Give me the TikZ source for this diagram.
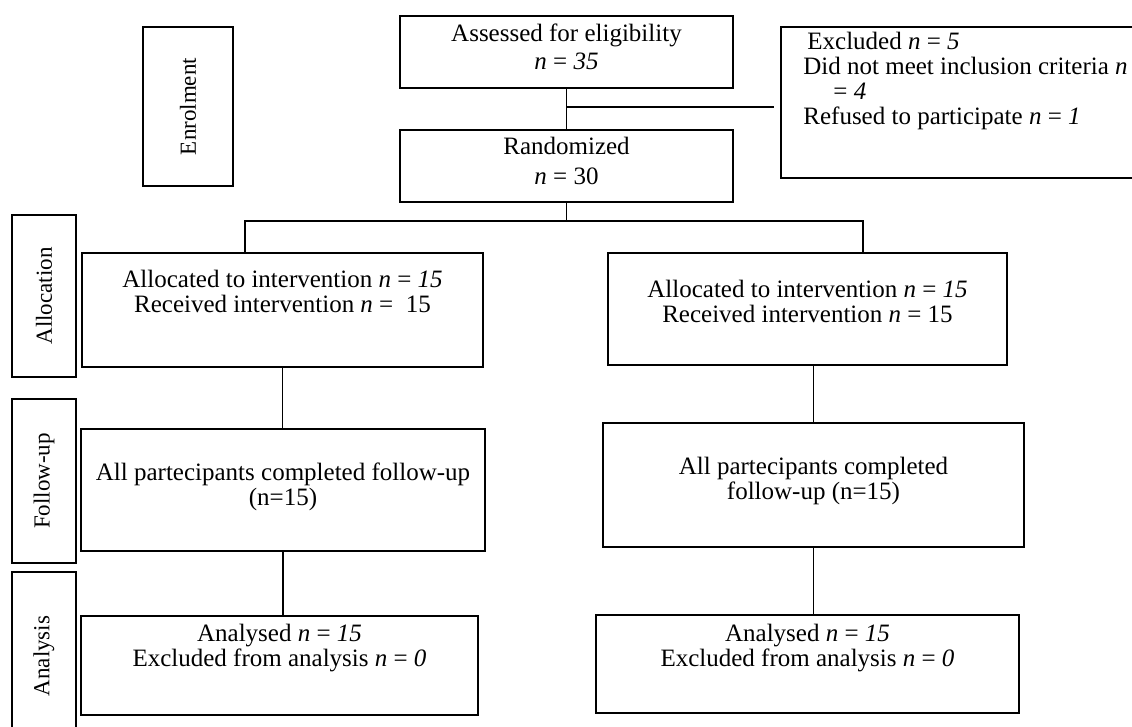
\documentclass[tikz,border=0pt]{standalone}
\usepackage{fontspec}
\setmainfont{Liberation Serif}
\usepackage{tikz}
\usetikzlibrary{positioning}
\newcommand{\nn}{\textit{n}}

\begin{document}
\begin{tikzpicture}[
  x=1pt, y=-1pt,
  box/.style={draw, line width=1.6pt, inner sep=0pt},
  side/.style={box, rotate=90, font=\fontsize{23}{25}\selectfont},
  txt/.style={inner sep=0pt, align=center, font=\fontsize{25}{25}\selectfont},
  link/.style={line width=1.6pt},
]
  \path[use as bounding box] (0,0) rectangle (1132,727);
  \clip (0,0) rectangle (1132,727);

  % stage labels
  \node[side, minimum width=159pt, minimum height=90pt] (enrol) at (188,106.5) {Enrolment};
  \node[side, minimum width=162pt, minimum height=64pt] (allocside) at (44,296) {Allocation};
  \node[side, minimum width=164pt, minimum height=64pt] (followside) at (44,481) {Follow-up};
  \node[side, minimum width=168pt, minimum height=64pt] (analside) at (44,656) {Analysis};

  % enrolment
  \node[box, minimum width=333pt, minimum height=72pt] (assess) at (566.5,52) {};
  \node[txt, below=9pt of assess.north] (assess-txt) {Assessed for eligibility\\[3pt] \nn{} = \textit{35}};
  \node[box, minimum width=379pt, minimum height=151pt] (excl) at (970.5,102.5) {};
  \node[txt, align=left, below right=6pt and 23pt of excl.north west] (excl-txt)
    {\hspace*{4pt}Excluded \nn{} = \textit{5}\\
     Did not meet inclusion criteria \nn\\
     \hspace*{30pt}= \textit{4}\\
     Refused to participate \nn{} = \textit{1}};
  \node[box, minimum width=333pt, minimum height=72pt] (rand) at (566.5,166) {};
  \node[txt, below=8pt of rand.north] (rand-txt) {Randomized\\[5pt] \nn{} = 30};

  % allocation
  \node[box, minimum width=401pt, minimum height=114pt] (lalloc) at (282.5,310) {};
  \node[txt, below=18pt of lalloc.north] (lalloc-txt) {Allocated to intervention \nn{} = \textit{15}\\ Received intervention \nn{} =~~15};
  \node[box, minimum width=399pt, minimum height=112pt] (ralloc) at (807.5,309) {};
  \node[txt, below=28pt of ralloc.north] (ralloc-txt) {Allocated to intervention \nn{} = \textit{15}\\ Received intervention \nn{} = 15};

  % follow-up
  \node[box, minimum width=404pt, minimum height=122pt] (lfollow) at (283,490) {};
  \node[txt, below=34pt of lfollow.north] (lfollow-txt) {All partecipants completed follow-up\\ (n=15)};
  \node[box, minimum width=421pt, minimum height=124pt] (rfollow) at (813.5,485) {};
  \node[txt, below=35pt of rfollow.north] (rfollow-txt) {All partecipants completed\\ follow-up (n=15)};

  % analysis
  \node[box, minimum width=397pt, minimum height=99pt] (lanal) at (279.5,665.5) {};
  \node[txt, below=9pt of lanal.north] (lanal-txt) {Analysed \nn{} = \textit{15}\\ Excluded from analysis \nn{} = \textit{0}};
  \node[box, minimum width=423pt, minimum height=98pt] (ranal) at (807.5,664) {};
  \node[txt, below=10pt of ranal.north] (ranal-txt) {Analysed \nn{} = \textit{15}\\ Excluded from analysis \nn{} = \textit{0}};

  % connectors
  \coordinate (exclsplit) at (566.5,107);
  \coordinate (allocsplit) at (566.5,221);
  \coordinate (ldrop) at (245,221);
  \coordinate (rdrop) at (863,221);

  \draw[link] (assess) -- (rand);
  \draw[link, shorten >=6pt] (exclsplit) -- (exclsplit -| excl.west);
  \draw[link] (rand) -- (allocsplit);
  \draw[link] (ldrop |- lalloc.north) -- (ldrop) -- (rdrop) -- (rdrop |- ralloc.north);
  \draw[link] (lalloc.south) -- (lalloc.south |- lfollow.north);
  \draw[link] (rfollow.north |- ralloc.south) -- (rfollow.north);
  \draw[link] (lfollow.south) -- (lfollow.south |- lanal.north);
  \draw[link] (rfollow.south) -- (rfollow.south |- ranal.north);
\end{tikzpicture}
\end{document}
